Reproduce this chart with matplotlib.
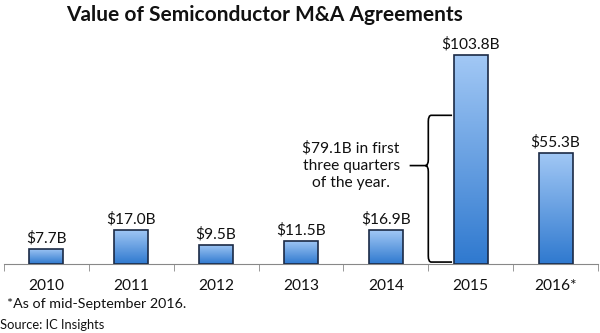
import numpy as np
import matplotlib
matplotlib.use("Agg")
import matplotlib.pyplot as plt
from matplotlib.colors import LinearSegmentedColormap
from matplotlib.path import Path
from matplotlib.patches import PathPatch

# values
years = ["2010", "2011", "2012", "2013", "2014", "2015", "2016*"]
values = [7.7, 17.0, 9.5, 11.5, 16.9, 103.8, 55.3]
labels = ["$7.7B", "$17.0B", "$9.5B", "$11.5B", "$16.9B", "$103.8B", "$55.3B"]
brace_top = 74      # where the brace is drawn on the 2015 bar
brace_tip = 49
note = "$79.1B in first\nthree quarters\nof the year."

plt.rcParams["font.family"] = ["Lato", "DejaVu Sans"]

fig = plt.figure(figsize=(6, 3.33), dpi=100)
ax = fig.add_axes([0.0067, 0.207, 0.99, 0.664])

x = np.arange(len(years))
width = 0.4
bars = ax.bar(x, values, width=width, facecolor="none", edgecolor="#1b2a45",
              linewidth=1.2, zorder=3)

cmap = LinearSegmentedColormap.from_list("bluegrad", ["#2f79cf", "#a2c8f5"])
grad = np.linspace(0, 1, 256).reshape(-1, 1)
for b in bars:
    x0, y0 = b.get_x(), b.get_y()
    im = ax.imshow(grad, cmap=cmap, origin="lower", aspect="auto",
                   extent=[x0, x0 + b.get_width(), y0, y0 + b.get_height()],
                   zorder=2)
    im.set_clip_path(b)

for xi, v, lab in zip(x, values, labels):
    ax.annotate(lab, (xi, v), xytext=(0, 2.5), textcoords="offset points",
                ha="center", va="bottom", fontsize=11.2, color="#111111")

# curly brace on the left side of the 2015 bar
bx = 5 - width / 2 - 0.02
sx = 4.5
tx = 4.28
r = 0.035
ry = 3
verts = [
    (bx, brace_top), (sx + r, brace_top), (sx, brace_top), (sx, brace_top - ry),
    (sx, brace_tip + ry), (sx, brace_tip), (sx - r, brace_tip), (tx, brace_tip),
    (sx - r, brace_tip), (sx, brace_tip), (sx, brace_tip - ry),
    (sx, 1 + ry), (sx, 1), (sx + r, 1), (bx, 1),
]
codes = [
    Path.MOVETO, Path.LINETO, Path.CURVE3, Path.CURVE3,
    Path.LINETO, Path.CURVE3, Path.CURVE3, Path.LINETO,
    Path.MOVETO, Path.CURVE3, Path.CURVE3,
    Path.LINETO, Path.CURVE3, Path.CURVE3, Path.LINETO,
]
ax.add_patch(PathPatch(Path(verts, codes), facecolor="none", edgecolor="black",
                       linewidth=1.2, zorder=4))
ax.text(3.59, brace_tip, note, ha="center", va="center", fontsize=11.2,
        linespacing=1.3, color="#111111")

ax.set_xlim(-0.5, len(years) - 0.5)
ax.set_ylim(0, 110)
ax.set_xticks(x)
ax.set_xticklabels(years, fontsize=11.2, color="#111111")
ax.set_xticks(np.arange(len(years) + 1) - 0.5, minor=True)
ax.tick_params(axis="x", which="major", length=0, pad=11)
ax.tick_params(axis="x", which="minor", length=5, color="#888888", direction="out")
ax.set_yticks([])
for s in ["top", "left", "right"]:
    ax.spines[s].set_visible(False)
ax.spines["bottom"].set_color("#888888")

fig.text(0.44, 0.955, "Value of Semiconductor M&A Agreements", ha="center",
         va="center", fontsize=15, fontweight="bold", color="#111111")
fig.text(0.012, 0.087, "*As of mid-September 2016.", ha="left", va="center",
         fontsize=10.3, color="#111111")
fig.text(0.0, 0.024, "Source: IC Insights", ha="left", va="center",
         fontsize=9.3, color="#111111")

fig.savefig("out.png", dpi=100)
